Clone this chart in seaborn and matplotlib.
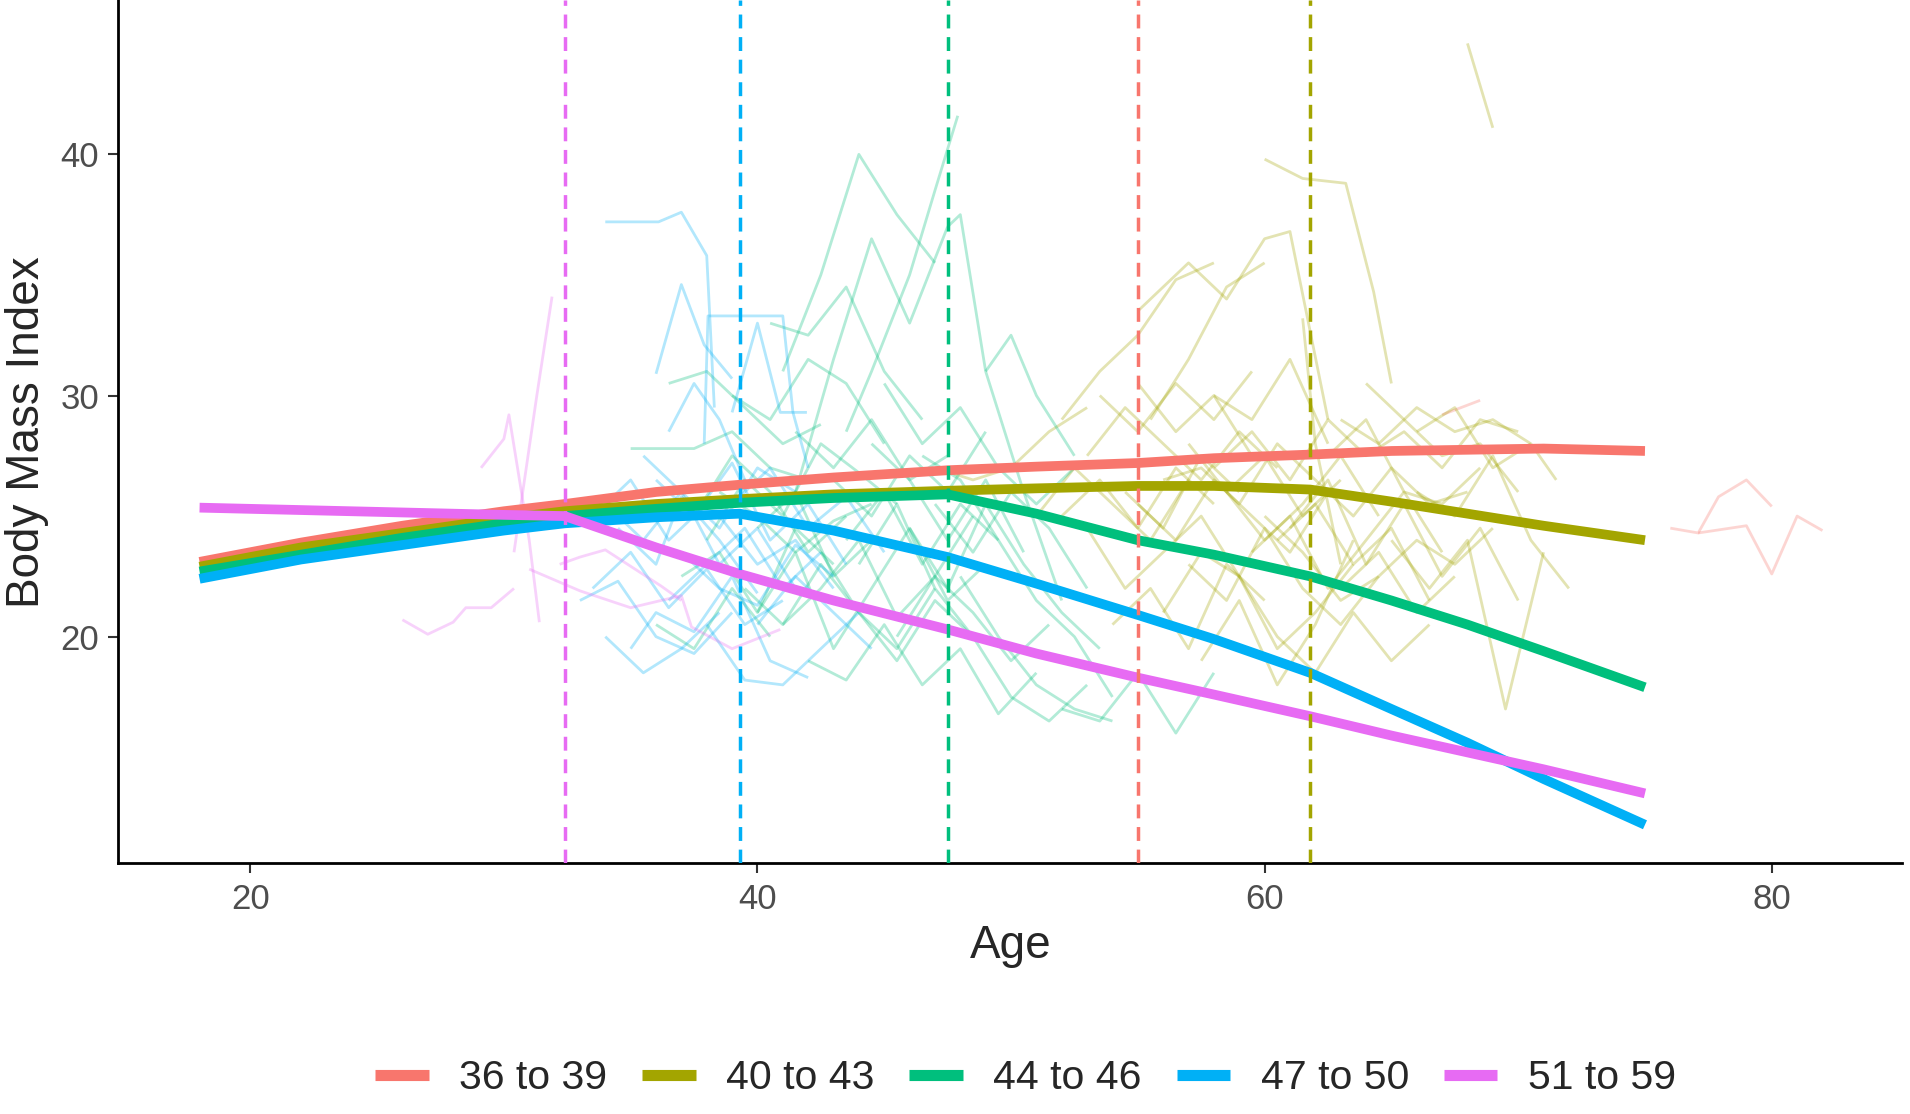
import pandas as pd
import matplotlib
matplotlib.use("Agg")
import matplotlib.pyplot as plt
from matplotlib.lines import Line2D
import seaborn as sns

# groups and colours (ggplot default hue palette)
groups = ['36 to 39', '40 to 43', '44 to 46', '47 to 50', '51 to 59']
colors = ['#F8766D', '#A3A500', '#00BF7D', '#00B0F6', '#E76BF3']

# age where each group's trajectory changes (dashed lines)
change_age = [55.0, 61.8, 47.5, 39.3, 32.4]

# fitted curves
fit_age = [18, 22, 26, 30, 32.4, 36, 39.3, 43, 47.5, 51, 55, 58, 61.8, 65, 68, 71, 75]
fit_red = [23.1, 23.9, 24.6, 25.2, 25.5, 26.0, 26.3, 26.6, 26.9, 27.05, 27.2, 27.4, 27.55, 27.7, 27.75, 27.8, 27.7]
fit_olive = [22.9, 23.7, 24.3, 24.9, 25.2, 25.5, 25.7, 25.9, 26.05, 26.15, 26.25, 26.25, 26.1, 25.6, 25.1, 24.6, 24.0]
fit_green = [22.7, 23.4, 24.1, 24.7, 25.0, 25.3, 25.55, 25.75, 25.9, 25.1, 24.0, 23.4, 22.5, 21.5, 20.5, 19.4, 17.9]
fit_blue = [22.4, 23.2, 23.8, 24.4, 24.7, 24.95, 25.1, 24.4, 23.3, 22.2, 20.9, 19.9, 18.5, 17.0, 15.6, 14.1, 12.2]
fit_pink = [25.35, 25.25, 25.15, 25.05, 25.0, 23.7, 22.6, 21.5, 20.3, 19.3, 18.3, 17.6, 16.7, 15.9, 15.2, 14.5, 13.5]

# individual trajectories (approximate)
red_ages = [[76.0, 77.1, 77.9, 79.0, 80.0], [77.1, 79.0, 80.0, 81.0, 82.0], [67.0, 68.5]]
red_bmi = [[24.5, 24.3, 25.8, 26.5, 25.4], [24.3, 24.6, 22.6, 25.0, 24.4], [29.2, 29.8]]

olive_ages = [
    [68.0, 69.0], [60.0, 61.5, 63.2, 64.3, 65.0], [55, 57, 58.5, 60, 61, 62.5],
    [52, 53.5, 55, 56.5, 58], [55.5, 57, 58.5, 60], [53, 54.5, 56, 57.5, 59, 60.5],
    [55, 56.5, 58, 59.5, 61, 62.5], [57, 58.5, 60, 61.5, 63, 64.5],
    [58, 59.5, 61, 62.5, 64, 65.5, 67, 68.5, 70], [63, 64.5, 66, 67.5, 69, 70.5, 71.5],
    [60, 61.5, 63, 64.5, 66, 67.5, 69], [65, 66.5, 68, 69.5, 71], [53, 54.5, 56, 57.5, 59],
    [59, 60.5, 62, 63.5, 65, 66.5], [61.5, 62, 63], [56, 57.5, 59, 60.5, 62],
    [66, 67.5, 69, 70.5, 72], [54, 55.5, 57, 58.5, 60], [62, 63.5, 65, 66.5, 68],
    [47, 48.5, 50, 51.5, 53], [58, 59.5, 61, 62.5], [64, 65.5, 67, 68.5, 70],
    [52, 53.5, 55, 56.5, 58], [57, 58.5, 60, 61.5, 63], [60.5, 62, 63.5, 65, 66.5],
    [63, 64.5, 66, 67.5], [55, 56.5, 58, 59.5],
    [51, 52.5, 54, 55.5, 57], [56, 57.5, 59, 60.5, 62, 63.5], [58.5, 60, 61.5, 63, 64.5],
    [61, 62.5, 64, 65.5, 67, 68.5, 70], [66, 67.5, 69, 70.5], [53.5, 55, 56.5, 58, 59.5],
    [57.5, 59, 60.5, 62, 63.5], [62.5, 64, 65.5, 67, 68.5], [54.5, 56, 57.5, 59],
    [59.5, 61, 62.5, 64, 65.5, 67],
]
olive_bmi = [
    [44.6, 41.1], [39.8, 39.0, 38.8, 34.3, 30.5], [33.5, 35.5, 34.0, 36.5, 36.8, 29.0],
    [29.0, 31.0, 32.5, 34.8, 35.5], [29.0, 31.5, 34.5, 35.5], [27.5, 29.5, 28.0, 26.5, 28.5, 27.0],
    [25.5, 24.0, 26.5, 25.0, 23.5, 26.0], [23.0, 21.5, 24.5, 22.0, 20.5, 22.5],
    [27.0, 28.5, 26.5, 29.0, 27.5, 28.5, 27.0, 29.0, 28.5], [29.0, 28.0, 29.5, 28.5, 29.0, 28.0, 26.5],
    [25.0, 23.5, 21.5, 22.5, 24.0, 23.0, 24.5], [24.0, 22.0, 24.0, 17.0, 23.5], [24.5, 22.0, 23.5, 25.0, 22.5],
    [22.5, 20.0, 18.5, 21.0, 19.0, 20.5], [33.2, 28.0, 23.0], [26.5, 27.0, 25.5, 28.0, 26.5],
    [26.0, 25.0, 27.5, 24.0, 22.0], [20.5, 22.0, 19.5, 23.0, 21.5], [26.5, 25.0, 27.0, 25.5, 26.0],
    [27.0, 26.5, 27.0, 28.5, 29.5], [30.0, 29.0, 31.5, 28.0], [30.5, 29.0, 27.5, 28.0, 26.0],
    [25.0, 26.5, 24.5, 27.0, 25.5], [28.0, 26.0, 27.5, 25.0, 26.5], [24.0, 25.5, 23.0, 24.5, 21.5],
    [22.0, 23.5, 21.0, 22.5], [30.5, 28.5, 30.0, 27.5],
    [25.0, 27.0, 25.5, 24.0, 26.5], [21.0, 23.5, 22.5, 19.5, 21.0, 23.0], [26.0, 24.0, 25.5, 27.5, 25.0],
    [24.5, 26.5, 23.0, 25.5, 22.5, 24.5, 21.5], [28.5, 29.5, 27.0, 28.0], [30.0, 28.5, 30.5, 29.0, 31.0],
    [19.0, 21.5, 18.0, 20.5, 24.0], [27.5, 29.0, 26.0, 25.5, 27.0], [26.0, 24.5, 27.5, 26.0],
    [23.5, 25.0, 22.0, 24.0, 26.0, 23.5],
]

green_ages = [
    [41.0, 42.5, 44.0, 45.5, 47.0], [43.5, 44.5, 46.0, 47.0, 47.9], [47.5, 48.0, 49.0, 50.5, 52.0],
    [41.5, 43.0, 44.5, 46.0, 47.5], [35, 37.5, 39, 40.5, 42], [38, 39.5, 41, 42.5, 44, 45.5],
    [40, 41.5, 43, 44.5, 46, 47.5, 49], [42, 43.5, 45, 46.5, 48, 49.5, 51], [44, 45.5, 47, 48.5, 50, 51.5, 53],
    [45, 46.5, 48, 49.5, 51, 52.5], [39, 40.5, 42, 43.5, 45], [37, 38.5, 40, 41.5, 43],
    [46, 47.5, 49, 50.5, 52, 53.5], [41, 42.5, 44, 45.5, 47, 48.5], [43, 44.5, 46, 47.5, 49],
    [48, 49.5, 51, 52.5, 54], [38.5, 40, 41.5, 43, 44.5], [36.5, 38, 39.5, 41, 42.5],
    [46.5, 48, 49.5, 51, 52.5, 54], [40.5, 42, 43.5, 45, 46.5], [49, 50, 51, 52.5],
    [52, 53.5, 55, 56.5, 58], [42.5, 44, 45.5, 47, 48.5], [44.5, 46, 47.5, 49, 50.5],
    [37.5, 39, 40.5, 42, 43.5], [39.5, 41, 42.5, 44, 45.5, 47], [43.5, 45, 46.5, 48, 49.5],
    [45.5, 47, 48.5, 50, 51.5], [41.5, 43, 44.5, 46, 47.5], [47, 48.5, 50, 51.5, 53],
    [36, 37.5, 39, 40.5], [40, 41.5, 43, 44.5],
]
green_bmi = [
    [31.0, 35.0, 40.0, 37.5, 35.5], [28.5, 31.0, 35.0, 38.5, 41.6], [37.0, 37.5, 31.0, 26.0, 21.5],
    [26.0, 31.5, 36.5, 33.0, 37.0], [27.8, 27.8, 28.5, 27.0, 26.5], [24.0, 26.5, 25.0, 28.0, 26.8, 25.5],
    [21.0, 23.5, 19.5, 22.0, 24.5, 21.5, 23.0], [19.0, 18.2, 20.5, 18.0, 19.5, 16.8, 18.5],
    [23.0, 25.5, 22.0, 20.0, 17.5, 16.5, 18.0], [30.5, 28.0, 29.5, 27.0, 25.5, 27.0],
    [30.0, 29.0, 31.5, 30.5, 28.0], [22.5, 23.5, 21.0, 24.5, 23.0], [24.5, 22.0, 25.5, 23.0, 21.0, 19.5],
    [20.5, 22.0, 24.0, 20.8, 22.5, 25.0], [26.5, 25.0, 27.5, 26.0, 28.5], [22.5, 20.0, 18.0, 17.0, 16.5],
    [26.0, 25.0, 23.5, 24.8, 25.5], [30.5, 31.0, 29.5, 28.0, 28.8], [27.5, 26.5, 24.0, 21.5, 20.0, 17.5],
    [33.0, 32.5, 34.5, 31.0, 29.0], [31.0, 32.5, 30.0, 27.5], [17.0, 16.5, 18.5, 16.0, 18.5],
    [23.5, 21.0, 19.0, 21.5, 20.0], [28.0, 26.5, 24.0, 26.5, 23.5],
    [25.0, 27.5, 26.0, 23.5, 25.0], [22.0, 20.5, 23.0, 21.0, 19.5, 22.0], [24.0, 26.0, 23.0, 25.5, 24.0],
    [20.0, 22.5, 21.0, 19.0, 20.5], [28.5, 27.0, 29.0, 26.5, 27.5], [25.5, 23.5, 26.0, 24.5, 22.0],
    [20.5, 19.5, 22.0, 20.0], [24.5, 26.0, 22.5, 24.0],
]

blue_ages = [
    [34.0, 36.1, 37.0, 38.0, 38.3], [36.0, 37.0, 37.9, 39.0], [37.9, 38.05, 41.0, 41.4, 42.0],
    [39.0, 40.0, 40.9, 41.95], [33.5, 35, 36.5, 38, 39.5, 41], [34, 35.5, 37, 38.5, 40, 41.5],
    [35, 36, 37.5, 39, 40.5, 42], [36, 37.5, 39, 40.5, 42, 43.5], [33, 34.5, 36, 37.5, 39],
    [37, 38.5, 40, 41.5, 43], [38, 39.5, 41, 42.5, 44], [35.5, 37, 38.5, 40, 41.5],
    [34.5, 36, 37, 38.5, 40], [39, 40.5, 42, 43.5, 45], [36.5, 37.5, 38.5, 39.5],
    [33.5, 35, 36.5, 38], [36.5, 38, 39.5, 41, 42.5], [38.5, 40, 41.5, 43],
    [34, 35.5, 37, 38.5], [40, 41.5, 43, 44.5],
]
blue_bmi = [
    [37.2, 37.2, 37.6, 35.8, 29.5], [30.9, 34.6, 32.1, 30.7], [28.0, 33.3, 33.3, 29.3, 27.0],
    [29.3, 33.0, 29.3, 29.3], [22.0, 23.5, 21.2, 22.8, 20.5, 21.5], [25.5, 24.0, 26.0, 23.0, 24.5, 22.0],
    [19.5, 21.0, 20.2, 22.5, 19.0, 18.3], [26.5, 25.0, 27.2, 24.0, 25.5, 23.0], [21.5, 22.3, 20.0, 19.3, 21.0],
    [23.5, 22.0, 21.3, 23.8, 22.5], [20.5, 18.2, 18.0, 19.5, 21.0], [27.5, 26.0, 24.5, 27.0, 26.0],
    [24.5, 23.0, 25.8, 24.0, 21.8], [25.5, 27.0, 24.5, 25.8, 23.5], [28.5, 30.5, 29.0, 26.5],
    [25.0, 26.5, 24.0, 25.5], [21.5, 23.0, 24.5, 22.0, 23.5], [25.0, 23.0, 24.0, 22.0],
    [20.0, 18.5, 19.5, 21.0], [20.5, 22.5, 21.0, 19.5],
]

pink_ages = [
    [26.0, 27.0, 28.0, 28.5, 29.5, 30.4], [30.4, 30.8, 31.3, 31.9], [29.1, 30.0, 30.2, 31.0, 31.4],
    [31.0, 33.0, 35.0, 37.0, 37.4, 39.0, 40.9], [32.2, 33.0, 34.0, 36.2, 37.0],
]
pink_bmi = [
    [20.7, 20.1, 20.6, 21.2, 21.2, 22.0], [23.5, 26.4, 30.0, 34.1], [27.0, 28.2, 29.2, 24.0, 20.6],
    [22.8, 21.9, 21.2, 21.7, 20.4, 19.5, 20.3], [23.0, 23.3, 23.6, 22.1, 21.5],
]

# build long tables
rows = []
for g, ages, bmis in zip(groups, [red_ages, olive_ages, green_ages, blue_ages, pink_ages],
                         [red_bmi, olive_bmi, green_bmi, blue_bmi, pink_bmi]):
    for i, (a, b) in enumerate(zip(ages, bmis)):
        for x, y in zip(a, b):
            rows.append({'id': g + str(i), 'group': g, 'age': x, 'bmi': y})
traj = pd.DataFrame(rows)

fits = []
for g, vals in zip(groups, [fit_red, fit_olive, fit_green, fit_blue, fit_pink]):
    fits.append(pd.DataFrame({'group': g, 'age': fit_age, 'bmi': vals}))
fit_df = pd.concat(fits, ignore_index=True)

sns.set_theme(style="ticks")
plt.rcParams['font.family'] = ['Liberation Sans', 'DejaVu Sans']
plt.rcParams['lines.solid_capstyle'] = 'butt'
palette = dict(zip(groups, colors))

fig = plt.figure(figsize=(19.1, 11.14), dpi=100)
ax = fig.add_axes([0.062, 0.225, 0.934, 0.775])

sns.lineplot(data=traj, x='age', y='bmi', hue='group', units='id', estimator=None,
             palette=palette, alpha=0.3, lw=2.0, legend=False, ax=ax)
sns.lineplot(data=fit_df, x='age', y='bmi', hue='group', palette=palette, lw=7,
             legend=False, ax=ax, zorder=3)
for g, c, a in zip(groups, colors, change_age):
    ax.axvline(a, color=c, ls=(0, (4, 2.5)), lw=2.5, zorder=4)

ax.set_xlim(14.8, 85.15)
ax.set_ylim(10.6, 46.4)
ax.set_xticks([20, 40, 60, 80])
ax.set_yticks([20, 30, 40])
ax.tick_params(labelsize=25, labelcolor='#4D4D4D', length=7, width=1.5, color='#333333', pad=7)
for s in ['top', 'right']:
    ax.spines[s].set_visible(False)
for s in ['left', 'bottom']:
    ax.spines[s].set_linewidth(2)
    ax.spines[s].set_color('black')
ax.set_xlabel('Age', fontsize=33, labelpad=6)
ax.set_ylabel('Body Mass Index', fontsize=33, labelpad=8)

handles = [Line2D([0], [0], color=c, lw=8, solid_capstyle='butt') for c in colors]
fig.legend(handles, groups, loc='center', bbox_to_anchor=(0.537, 0.032), ncol=5,
           frameon=False, fontsize=29.5, handlelength=1.3, handletextpad=0.75, columnspacing=0.85)

fig.savefig('out.png', dpi=100)
